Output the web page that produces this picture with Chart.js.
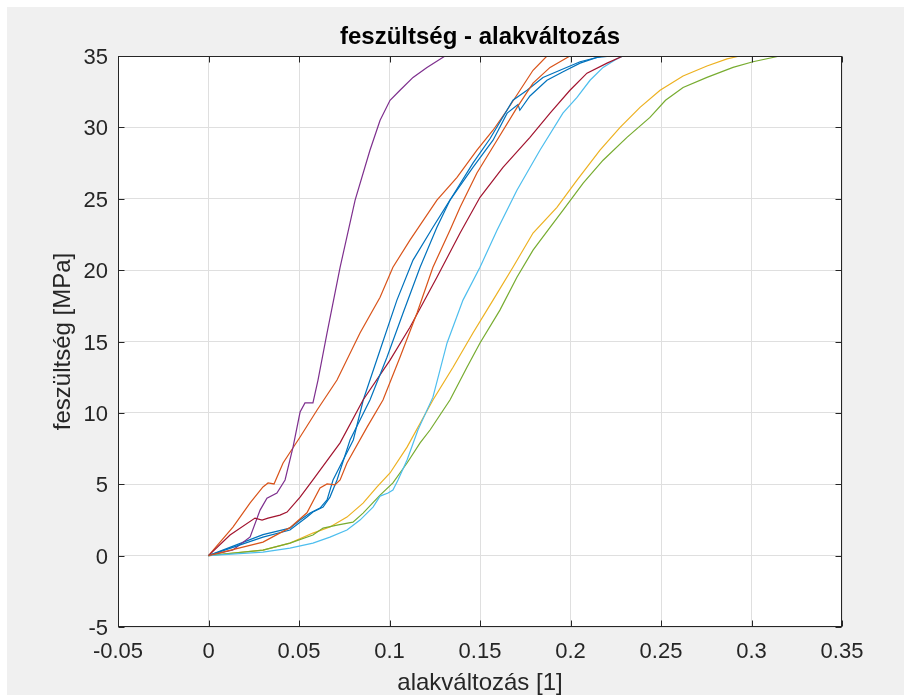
<!DOCTYPE html>
<html>
<head>
<meta charset="utf-8">
<script src="https://cdn.jsdelivr.net/npm/chart.js@4.4.0/dist/chart.umd.min.js"></script>
<style>
  html, body { margin: 0; padding: 0; background: #fff; }
  #wrap { position: absolute; left: 7px; top: 7px; width: 897px; height: 688px; background: #f0f0f0; }
  canvas { display: block; }
</style>
</head>
<body>
<div id="wrap"><canvas id="chart" width="897" height="688"></canvas></div>
<script>
// tick labels
var xTicks = [-0.05, 0, 0.05, 0.1, 0.15, 0.2, 0.25, 0.3, 0.35];
var yTicks = [-5, 0, 5, 10, 15, 20, 25, 30, 35];

// measured curves (strain [1], stress [MPa]) in MATLAB plot order
var blue1X = [0, 0.0301, 0.045, 0.0506, 0.0561, 0.0616, 0.0655, 0.0688, 0.0800, 0.0855, 0.0948, 0.1041, 0.113, 0.124, 0.1334, 0.1461, 0.1572, 0.165, 0.171, 0.172, 0.1776, 0.187, 0.1959, 0.2053, 0.2146, 0.223];
var blue1Y = [0, 1.47, 1.93, 2.49, 2.98, 3.33, 3.9, 5.3, 8.1, 10.9, 14.4, 17.9, 20.7, 23.0, 24.9, 27.2, 29.1, 31.0, 31.6, 31.2, 32.2, 33.3, 33.9, 34.5, 34.9, 35.0];

var orange1X = [0, 0.0135, 0.023, 0.0301, 0.0329, 0.0362, 0.0412, 0.0506, 0.06, 0.071, 0.0837, 0.0948, 0.1019, 0.1113, 0.1262, 0.1373, 0.1483, 0.1572, 0.1649, 0.1721, 0.1793, 0.187];
var orange1Y = [0, 2.0, 3.69, 4.81, 5.09, 5.02, 6.49, 8.31, 10.2, 12.3, 15.6, 18.1, 20.2, 22.1, 24.9, 26.5, 28.4, 29.8, 31.2, 32.6, 34.0, 35.0];

var yellowX = [0, 0.0301, 0.045, 0.0577, 0.0671, 0.0765, 0.0854, 0.0931, 0.1003, 0.1097, 0.124, 0.1351, 0.1461, 0.1572, 0.1682, 0.1793, 0.1925, 0.2036, 0.2163, 0.2274, 0.2384, 0.2495, 0.2622, 0.2754, 0.2865, 0.2936];
var yellowY = [0, 0.39, 0.88, 1.58, 2.0, 2.7, 3.68, 4.81, 5.79, 7.6, 10.9, 13.2, 15.6, 17.9, 20.2, 22.6, 24.4, 26.3, 28.4, 30.0, 31.4, 32.6, 33.6, 34.3, 34.8, 35.0];

var purpleX = [0, 0.0135, 0.023, 0.0285, 0.0323, 0.0378, 0.0423, 0.0467, 0.0506, 0.0533, 0.0577, 0.0605, 0.0655, 0.0727, 0.081, 0.0892, 0.0948, 0.1003, 0.1058, 0.113, 0.1207, 0.1307];
var purpleY = [0, 0.39, 1.31, 3.19, 4.03, 4.39, 5.3, 7.6, 10.06, 10.7, 10.7, 12.3, 15.6, 20.2, 24.9, 28.4, 30.5, 31.9, 32.6, 33.5, 34.2, 35.0];

var greenX = [0, 0.0301, 0.045, 0.0577, 0.0633, 0.071, 0.0798, 0.0854, 0.0948, 0.1019, 0.1097, 0.1169, 0.1224, 0.1334, 0.1428, 0.15, 0.161, 0.1704, 0.1793, 0.1887, 0.1959, 0.207, 0.218, 0.2312, 0.2439, 0.2525, 0.2622, 0.2754, 0.2898, 0.3008, 0.3157];
var greenY = [0, 0.39, 0.88, 1.44, 1.93, 2.14, 2.35, 2.98, 4.24, 5.09, 6.49, 7.9, 8.8, 10.9, 13.2, 14.9, 17.2, 19.5, 21.4, 23.0, 24.2, 26.1, 27.7, 29.3, 30.7, 31.9, 32.8, 33.5, 34.2, 34.6, 35.0];

var lightBlueX = [0, 0.0301, 0.045, 0.0577, 0.0671, 0.0765, 0.0837, 0.0909, 0.0948, 0.0992, 0.1019, 0.1047, 0.1097, 0.1157, 0.124, 0.1318, 0.1406, 0.15, 0.1594, 0.1704, 0.1831, 0.1958, 0.2036, 0.2108, 0.218, 0.2257, 0.229];
var lightBlueY = [0, 0.25, 0.53, 0.88, 1.3, 1.79, 2.49, 3.4, 4.17, 4.39, 4.6, 5.3, 6.7, 8.8, 11.1, 14.9, 17.9, 20.2, 22.8, 25.6, 28.4, 31.0, 32.1, 33.3, 34.2, 34.8, 35.0];

var darkRedX = [0, 0.0119, 0.0257, 0.0296, 0.0329, 0.0395, 0.0434, 0.0506, 0.0577, 0.0727, 0.0854, 0.1003, 0.1113, 0.1262, 0.139, 0.15, 0.1627, 0.1776, 0.1887, 0.1997, 0.2091, 0.2202, 0.229];
var darkRedY = [0, 1.44, 2.63, 2.49, 2.63, 2.84, 3.05, 4.1, 5.3, 7.9, 10.9, 13.7, 16.0, 19.5, 22.6, 25.1, 27.2, 29.3, 31.0, 32.6, 33.8, 34.5, 35.0];

var blue2X = [0, 0.0301, 0.045, 0.0544, 0.0577, 0.0633, 0.0671, 0.071, 0.0782, 0.0892, 0.0986, 0.1075, 0.1169, 0.1262, 0.1334, 0.1461, 0.1555, 0.1682, 0.176, 0.1848, 0.1942, 0.2053, 0.218];
var blue2Y = [0, 1.3, 1.79, 2.7, 3.05, 3.4, 4.1, 5.3, 8.1, 10.9, 13.9, 17.0, 20.2, 23.0, 24.9, 27.5, 29.2, 31.9, 32.6, 33.5, 34.0, 34.6, 35.0];

var orange2X = [0, 0.0301, 0.045, 0.0544, 0.0616, 0.0655, 0.0699, 0.0727, 0.0765, 0.0876, 0.0964, 0.1058, 0.1152, 0.124, 0.1334, 0.139, 0.1483, 0.1594, 0.1705, 0.1793, 0.1887, 0.1997];
var orange2Y = [0, 0.95, 1.96, 3.0, 4.74, 5.02, 4.95, 5.3, 6.49, 9.0, 10.9, 13.9, 17.0, 20.2, 22.8, 24.4, 26.8, 29.1, 31.4, 33.1, 34.2, 35.0];

var TITLE = 'feszültség - alakváltozás';
var FONT = '"Liberation Sans", Arial, Helvetica, sans-serif';
var AXIS_COLOR = '#262626';

function pts(xs, ys) {
  return xs.map(function(x, i) { return {x: x, y: ys[i]}; });
}
function fmt(v) {
  return String(parseFloat(Number(v).toFixed(2)));
}

var series = [
  {x: blue1X, y: blue1Y, color: '#0072BD'},
  {x: orange1X, y: orange1Y, color: '#D95319'},
  {x: yellowX, y: yellowY, color: '#EDB120'},
  {x: purpleX, y: purpleY, color: '#7E2F8E'},
  {x: greenX, y: greenY, color: '#77AC30'},
  {x: lightBlueX, y: lightBlueY, color: '#4DBEEE'},
  {x: darkRedX, y: darkRedY, color: '#A2142F'},
  {x: blue2X, y: blue2Y, color: '#0072BD'},
  {x: orange2X, y: orange2Y, color: '#D95319'}
];

// white axes background, box, inward ticks and title centred on the axes like matlab
var axesBox = {
  id: 'axesBox',
  beforeDraw: function(chart) {
    var a = chart.chartArea, ctx = chart.ctx;
    ctx.save();
    ctx.fillStyle = '#f0f0f0';
    ctx.fillRect(0, 0, chart.width, chart.height);
    ctx.fillStyle = '#ffffff';
    ctx.fillRect(a.left, a.top, a.right - a.left, a.bottom - a.top);
    ctx.restore();
  },
  afterDatasetsDraw: function(chart) {
    var a = chart.chartArea, ctx = chart.ctx;
    var xs = chart.scales.x, ys = chart.scales.y;
    var L = Math.round(a.left) + 0.5, R = Math.round(a.right) - 0.5;
    var T = Math.round(a.top) + 0.5, B = Math.round(a.bottom) - 0.5;
    var len = 6;
    ctx.save();
    ctx.strokeStyle = AXIS_COLOR;
    ctx.lineWidth = 1;
    ctx.beginPath();
    xTicks.forEach(function(v) {
      var p = Math.round(xs.getPixelForValue(v)) + 0.5;
      ctx.moveTo(p, B); ctx.lineTo(p, B - len);
      ctx.moveTo(p, T); ctx.lineTo(p, T + len);
    });
    yTicks.forEach(function(v) {
      var p = Math.round(ys.getPixelForValue(v)) + 0.5;
      ctx.moveTo(L, p); ctx.lineTo(L + len, p);
      ctx.moveTo(R, p); ctx.lineTo(R - len, p);
    });
    ctx.stroke();
    ctx.strokeRect(L, T, R - L, B - T);

    ctx.fillStyle = '#000000';
    ctx.font = 'bold 24px ' + FONT;
    ctx.textAlign = 'center';
    ctx.textBaseline = 'middle';
    ctx.fillText(TITLE, (a.left + a.right) / 2, 30);
    ctx.restore();
  }
};

new Chart(document.getElementById('chart'), {
  type: 'line',
  data: {
    datasets: series.map(function(s, i) {
      return {
        data: pts(s.x, s.y),
        borderColor: s.color,
        borderWidth: 1.2,
        pointRadius: 0,
        tension: 0,
        fill: false,
        order: series.length - i
      };
    })
  },
  options: {
    responsive: false,
    animation: false,
    devicePixelRatio: 1,
    layout: { padding: { left: 44, right: 62, top: 49, bottom: 0 } },
    plugins: {
      legend: { display: false },
      tooltip: { enabled: false },
      title: { display: false }
    },
    scales: {
      x: {
        type: 'linear',
        min: -0.05,
        max: 0.35,
        afterBuildTicks: function(s) { s.ticks = xTicks.map(function(v) { return {value: v}; }); },
        afterFit: function(s) { s.height = 68; },
        grid: { color: '#dfdfdf', lineWidth: 1, drawTicks: false },
        border: { display: false },
        ticks: {
          color: AXIS_COLOR,
          font: { family: FONT, size: 22 },
          padding: 12,
          maxRotation: 0,
          autoSkip: false,
          callback: function(v) { return fmt(v); }
        },
        title: {
          display: true,
          text: 'alakváltozás [1]',
          color: AXIS_COLOR,
          font: { family: FONT, size: 24, lineHeight: 1 },
          padding: { top: 0, bottom: 0 }
        }
      },
      y: {
        type: 'linear',
        min: -5,
        max: 35,
        afterBuildTicks: function(s) { s.ticks = yTicks.map(function(v) { return {value: v}; }); },
        afterFit: function(s) { s.width = 67; },
        grid: { color: '#dfdfdf', lineWidth: 1, drawTicks: false },
        border: { display: false },
        ticks: {
          color: AXIS_COLOR,
          font: { family: FONT, size: 22 },
          padding: 10,
          labelOffset: 2,
          autoSkip: false,
          callback: function(v) { return fmt(v); }
        },
        title: {
          display: true,
          text: 'feszültség [MPa]',
          color: AXIS_COLOR,
          font: { family: FONT, size: 24, lineHeight: 1 },
          padding: { top: 0, bottom: 0 }
        }
      }
    }
  },
  plugins: [axesBox]
});
</script>
</body>
</html>
